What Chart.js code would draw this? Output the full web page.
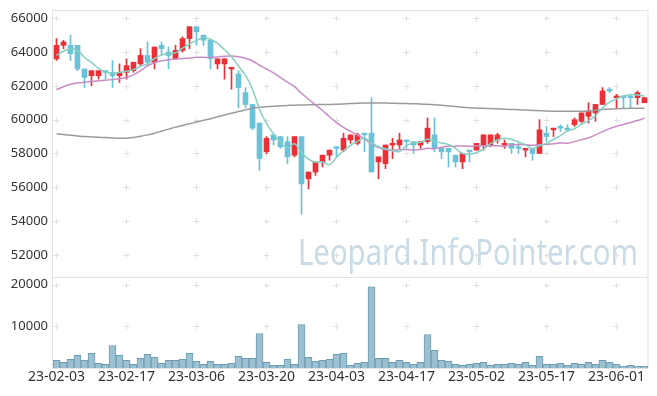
<!DOCTYPE html>
<html><head><meta charset="utf-8">
<script src="https://cdn.jsdelivr.net/npm/chart.js@4.4.1/dist/chart.umd.min.js"></script>
<style>
html,body{margin:0;padding:0;background:#fff;}
#wrap{position:relative;width:657px;height:396px;overflow:hidden;}
#c1{position:absolute;left:0;top:0;}
#c2{position:absolute;left:0;top:277px;}
</style></head><body>
<div id="wrap"><canvas id="c1" width="657" height="278"></canvas><canvas id="c2" width="657" height="119"></canvas></div>
<script>
const dates = ['23-02-03','23-02-06','23-02-07','23-02-08','23-02-09','23-02-10','23-02-13','23-02-14','23-02-15','23-02-16','23-02-17','23-02-20','23-02-21','23-02-22','23-02-23','23-02-24','23-02-27','23-02-28','23-03-02','23-03-03','23-03-06','23-03-07','23-03-08','23-03-09','23-03-10','23-03-13','23-03-14','23-03-15','23-03-16','23-03-17','23-03-20','23-03-21','23-03-22','23-03-23','23-03-24','23-03-27','23-03-28','23-03-29','23-03-30','23-03-31','23-04-03','23-04-04','23-04-05','23-04-06','23-04-07','23-04-10','23-04-11','23-04-12','23-04-13','23-04-14','23-04-17','23-04-18','23-04-19','23-04-20','23-04-21','23-04-24','23-04-25','23-04-26','23-04-27','23-04-28','23-05-02','23-05-03','23-05-04','23-05-08','23-05-09','23-05-10','23-05-11','23-05-12','23-05-15','23-05-16','23-05-17','23-05-18','23-05-19','23-05-22','23-05-23','23-05-24','23-05-25','23-05-26','23-05-30','23-05-31','23-06-01','23-06-02','23-06-05','23-06-07','23-06-08'];

const opens = [63600,64400,64400,64400,63000,62600,62600,62900,62800,62600,
 62800,62900,63300,63800,63400,64400,64000,63600,64100,64800,
 65500,65000,64700,63300,63300,63000,62700,61600,60900,59800,
 58100,59100,59000,58700,57900,59000,56500,56900,57500,57900,
 58400,58200,58800,58600,59200,59200,57500,57400,58500,58500,
 58800,58700,58500,58700,59100,58300,58300,57900,57500,58200,
 58200,58500,58500,58800,58500,58600,58400,58200,58300,58000,
 59200,59400,59600,59500,59700,59900,60200,60400,60900,61800,
 61300,61400,61400,61300,61000];
const highs = [64800,64700,65000,64400,63000,62900,62900,62900,63500,63300,
 63600,63400,64200,64600,64300,64600,64300,64400,64900,65500,
 65500,65000,64700,63600,63600,63100,62900,61900,60900,59800,
 59000,59100,59000,59000,59000,59000,56900,57500,57900,58200,
 58400,59200,59100,59200,59200,61300,57800,58500,58900,59200,
 58800,58700,58700,60100,60100,58300,58300,57900,58000,58200,
 58600,59100,59100,59200,58800,58600,58600,58300,58300,60000,
 59600,59500,59700,59700,60100,60400,61000,60900,61900,61900,
 61500,61400,61400,61700,61300];
const lows = [63500,64200,63500,62900,61900,62000,62400,62400,61900,62200,
 62400,62800,63200,63200,63000,63800,63000,63600,64000,64200,
 64400,64400,63000,63000,62400,61800,60700,60700,59400,57000,
 58000,58500,58300,57400,57800,54400,55900,56700,57200,57600,
 57800,58100,58600,58500,58100,56900,56500,57100,57700,58300,
 58300,58000,58300,58600,58100,57700,57200,57200,57100,57500,
 58200,58200,58400,58600,58300,58000,58000,57800,57600,58000,
 58700,59000,59300,59300,59600,59800,59800,59900,60900,61600,
 60700,60700,60700,60900,61000];
const closes = [64400,64600,63900,63000,62500,62900,62900,62800,62600,62800,
 63200,63400,63800,63400,64300,64200,63800,64100,64800,65500,
 65200,64700,63600,63600,63600,63100,61900,60900,59500,57700,
 58900,58800,58400,57800,59000,56200,56900,57500,57900,58200,
 58300,58900,59100,59100,59100,56900,57800,58500,58600,58800,
 58700,58500,58700,59500,58300,58100,58100,57500,58000,58100,
 58600,59100,59100,59100,58600,58300,58300,58300,58000,59400,
 59000,59500,59500,59400,60000,60400,60500,60900,61700,61700,
 61400,61300,61300,61600,61300];
const volumes = [1830,1350,2060,3020,1830,3490,1110,870,5400,3020,
 1830,870,2300,3250,2540,1110,1830,1830,2060,3490,
 1590,870,1590,870,870,1110,2780,2300,2300,8250,
 1350,640,640,2060,870,10400,2540,1590,1830,2060,
 3250,3490,640,1110,1350,19440,2300,2300,1350,1830,
 1350,870,1350,8020,4210,1830,1590,870,640,870,
 1110,1350,640,870,870,1110,870,1350,640,2780,
 870,870,1110,640,1110,870,1350,870,1830,1350,
 870,400,640,400,400];
const ma5 = [63800,64050,64200,64100,63680,63380,63040,62820,62740,62800,
 62860,62960,63160,63320,63620,63820,63900,63960,64240,64480,
 64680,64860,64760,64520,64140,63720,63160,62620,61800,60620,
 59780,59160,58660,58320,58580,58040,57660,57480,57500,57340,
 57760,58160,58480,58720,58900,58620,58400,58280,58180,58120,
 58480,58620,58660,58840,58740,58620,58540,58300,58000,57960,
 58060,58260,58580,58800,58900,58840,58680,58520,58300,58460,
 58600,58840,59060,59340,59460,59740,59940,60240,60700,61040,
 61240,61400,61480,61460,61380];
const ma20 = [61770,61950,62100,62170,62220,62260,62300,62330,62370,62420,
 62500,62650,62900,63180,63380,63480,63540,63590,63620,63650,
 63690,63690,63680,63710,63760,63770,63720,63630,63470,63220,
 63000,62770,62500,62220,61960,61560,61210,60880,60540,60170,
 59830,59540,59310,59090,58860,58550,58350,58230,58180,58240,
 58230,58210,58230,58310,58280,58370,58430,58430,58440,58430,
 58450,58460,58460,58460,58430,58500,58530,58520,58490,58520,
 58530,58580,58620,58610,58700,58810,58930,59100,59290,59470,
 59610,59720,59830,59950,60090];
const ma60 = [59160,59120,59080,59040,59000,58980,58960,58940,58920,58900,
 58900,58950,59020,59100,59200,59320,59440,59560,59660,59760,
 59860,59960,60060,60170,60280,60380,60480,60580,60680,60730,
 60770,60800,60820,60840,60860,60870,60880,60890,60900,60900,
 60910,60930,60950,60970,60980,60980,60980,60980,60970,60960,
 60950,60940,60930,60910,60880,60850,60820,60780,60740,60710,
 60690,60670,60660,60640,60620,60600,60590,60570,60550,60530,
 60510,60500,60500,60500,60500,60500,60520,60560,60600,60630,
 60650,60660,60670,60680,60680];
const priceTicks = [52000,54000,56000,58000,60000,62000,64000,66000];
const volumeTicks = [10000,20000];
const watermark = 'Leopard.InfoPointer.com';

const UP = '#ea2f37', DOWN = '#6ac2d8';
const candleColors = closes.map((c,i)=> c > opens[i] ? UP : DOWN);
const FONT = '"Noto Sans", "DejaVu Sans", sans-serif';
Chart.defaults.font.family = FONT;
Chart.defaults.color = '#333';

function crossPlugin(yid, drawWatermark){
  return {
    id: 'cross_' + yid,
    beforeDatasetsDraw(chart){
      const {ctx, chartArea: a, scales} = chart;
      const xs = scales.x, ys = scales[yid];
      ctx.save();
      ctx.strokeStyle = '#e3e3e3'; ctx.lineWidth = 1;
      ctx.strokeRect(a.left - 0.5, a.top + 0.5, a.right - a.left + 0.5, a.bottom - a.top);
      ctx.strokeStyle = '#e0e0e0';
      ys.ticks.forEach(t => {
        const py = Math.round(ys.getPixelForValue(t.value)) + 0.5;
        for (let i = 0; i < dates.length; i += 10) {
          const px = Math.floor(xs.getPixelForValue(i)) + 0.5;
          ctx.beginPath();
          ctx.moveTo(px - 3, py); ctx.lineTo(px + 3, py);
          ctx.moveTo(px, py - 3); ctx.lineTo(px, py + 3);
          ctx.stroke();
        }
      });
      if (drawWatermark) {
        ctx.font = '36px ' + FONT;
        ctx.fillStyle = '#c8dbe7';
        ctx.textBaseline = 'alphabetic';
        const w = ctx.measureText(watermark).width;
        const target = 340;
        ctx.translate(298, 265);
        ctx.scale(target / w, 1);
        ctx.fillText(watermark, 0, 0);
      }
      ctx.restore();
    }
  };
}

const yAxisFit = (s) => { s.width = 53; s.paddingTop = 0; s.paddingBottom = 0; s.paddingLeft = 0; s.paddingRight = 0; };

new Chart(document.getElementById('c1'), {
  type: 'bar',
  data: {
    labels: dates,
    datasets: [
      { type: 'line', data: ma5, borderColor: '#86cfc3', borderWidth: 1.5, pointRadius: 0, tension: 0.35, order: 0 },
      { type: 'line', data: ma20, borderColor: '#c98cc5', borderWidth: 1.5, pointRadius: 0, tension: 0.35, order: 0 },
      { type: 'line', data: ma60, borderColor: '#9b9b9b', borderWidth: 1.5, pointRadius: 0, tension: 0.35, order: 0 },
      { type: 'bar', data: opens.map((o,i)=>[o, closes[i]]), backgroundColor: candleColors, barThickness: 5, grouped: false, minBarLength: 1, order: 1 },
      { type: 'bar', data: lows.map((l,i)=>[l, highs[i]]), backgroundColor: candleColors, barThickness: 1, grouped: false, order: 2 }
    ]
  },
  options: {
    responsive: false, animation: false, devicePixelRatio: 1,
    layout: { padding: { left: 0, top: 10, right: 9, bottom: 1 } },
    plugins: { legend: { display: false }, tooltip: { enabled: false } },
    scales: {
      x: { display: false, offset: true },
      y: {
        min: 50690, max: 66490,
        afterBuildTicks: (s) => { s.ticks = priceTicks.map(v => ({ value: v })); },
        afterFit: yAxisFit,
        grid: { display: false, drawTicks: false, tickLength: 0 },
        border: { display: false },
        ticks: { padding: 5, font: { size: 13 }, color: '#333', callback: (v) => String(v) }
      }
    }
  },
  plugins: [crossPlugin('y', true)]
});

new Chart(document.getElementById('c2'), {
  type: 'bar',
  data: {
    labels: dates,
    datasets: [
      { data: volumes, backgroundColor: '#9bc1d1', borderColor: '#6e9cb4', borderWidth: 1, barPercentage: 1, categoryPercentage: 1 }
    ]
  },
  options: {
    responsive: false, animation: false, devicePixelRatio: 1,
    layout: { padding: { left: 0, top: 0, right: 9, bottom: 0 } },
    plugins: { legend: { display: false }, tooltip: { enabled: false } },
    scales: {
      x: {
        offset: true,
        afterFit: (s) => { s.height = 28; s.paddingLeft = 0; s.paddingRight = 0; },
        grid: { display: false, drawTicks: false, tickLength: 0 },
        border: { display: false },
        ticks: { autoSkip: false, maxRotation: 0, minRotation: 0, padding: 1, font: { size: 14 }, color: '#333',
          callback: (v, i) => (i % 10 === 0 ? dates[i] : '') }
      },
      y: {
        min: 0, max: 21800,
        afterBuildTicks: (s) => { s.ticks = volumeTicks.map(v => ({ value: v })); },
        afterFit: yAxisFit,
        grid: { display: false, drawTicks: false, tickLength: 0 },
        border: { display: false },
        ticks: { padding: 5, font: { size: 13 }, color: '#333', callback: (v) => String(v) }
      }
    }
  },
  plugins: [crossPlugin('y', false)]
});
</script>
</body></html>
